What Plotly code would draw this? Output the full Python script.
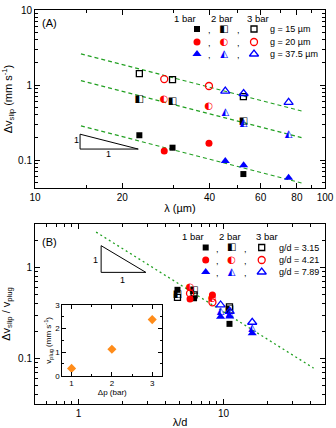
import numpy as np
import plotly.graph_objects as go

W, H = 336, 428

# ---------------- panel A data ----------------
LAMBDA_SQ_A = [22.9, 29.8, 52.3]
LAMBDA_CI_A = [27.9, 39.8]
LAMBDA_TR_A = [45.3, 52.4, 74.9]
SQ_1BAR_A = [0.214, 0.146, 0.065]
SQ_2BAR_A = [0.65, 0.61, 0.323]
SQ_3BAR_A = [1.42, 1.18, 0.70]
CI_1BAR_A = [0.132, 0.167]
CI_2BAR_A = [0.65, 0.52]
CI_3BAR_A = [1.20, 0.97]
TR_1BAR_A = [0.097, 0.085, 0.058]
TR_2BAR_A = [0.43, 0.31, 0.218]
TR_3BAR_A = [0.83, 0.77, 0.586]
FIT_COEF_A = [37.4, 16.5, 4.1]      # dv = c / lambda
FIT_RANGE_A = [14.4, 83.0]

# ---------------- panel B data ----------------
LD_SQ_B = [4.81, 6.26, 10.99]
LD_CI_B = [5.87, 8.38]
LD_TR_B = [9.54, 11.03, 15.77]
SQ_1BAR_B = [0.57, 0.46, 0.24]
SQ_2BAR_B = [0.51, 0.56, 0.35]
SQ_3BAR_B = [0.47, 0.50, 0.37]
CI_1BAR_B = [0.45, 0.50]
CI_2BAR_B = [0.60, 0.46]
CI_3BAR_B = [0.52, 0.415]
TR_1BAR_B = [0.288, 0.29, 0.189]
TR_2BAR_B = [0.33, 0.31, 0.215]
TR_3BAR_B = [0.388, 0.33, 0.25]
FIT_COEF_B = 3.26
FIT_RANGE_B = [1.32, 41.8]

# ---------------- inset data ----------------
DP_BAR = [1, 2, 3]
V_PLUG = [0.31, 1.12, 2.38]
V_PLUG_ERR = [0.07, 0.08, 0.12]

LEGEND_A = ["g = 15 \u00b5m", "g = 20 \u00b5m", "g = 37.5 \u00b5m"]
LEGEND_B = ["g/d = 3.15", "g/d = 4.21", "g/d = 7.89"]
PRESSURES = ["1 bar", "2 bar", "3 bar"]

FONT = "Liberation Sans, Arial, sans-serif"
RED, BLUE, BLACK = "#ff0000", "#0000ff", "#000000"
GREEN = "#22a022"
ORANGE = "#ff8c1a"


def px(x):
    return x / W


def py(y):
    return 1 - y / H


fig = go.Figure()


def filled(x, y, sym, col, xa, ya, size=7):
    fig.add_trace(go.Scatter(x=x, y=y, mode="markers", xaxis=xa, yaxis=ya,
                             marker=dict(symbol=sym, color=col, size=size, line=dict(width=0)),
                             showlegend=False, hoverinfo="skip"))


def hollow(x, y, sym, col, xa, ya, size=7):
    fig.add_trace(go.Scatter(x=x, y=y, mode="markers", xaxis=xa, yaxis=ya,
                             marker=dict(symbol=sym + "-open", color=col, size=size,
                                         line=dict(width=1.3, color=col)),
                             showlegend=False, hoverinfo="skip"))


def half(x, y, glyph, col, xa, ya, size=10):
    fig.add_trace(go.Scatter(x=x, y=y, mode="text", xaxis=xa, yaxis=ya, text=[glyph] * len(x),
                             textposition="middle center",
                             textfont=dict(family="DejaVu Sans", size=size, color=col),
                             showlegend=False, hoverinfo="skip"))


SQ_HALF, CI_HALF, TR_HALF = "\u25e7", "\u25d0", "\u25ed"

# fit lines (under markers)
xf = np.array(FIT_RANGE_A)
for c in FIT_COEF_A:
    fig.add_trace(go.Scatter(x=xf, y=c / xf, mode="lines", xaxis="x", yaxis="y",
                             line=dict(color=GREEN, width=1.2, dash="4px,3px"),
                             showlegend=False, hoverinfo="skip"))
xb = np.array(FIT_RANGE_B)
fig.add_trace(go.Scatter(x=xb, y=FIT_COEF_B / xb, mode="lines", xaxis="x2", yaxis="y2",
                         line=dict(color=GREEN, width=1.3, dash="2px,3px"),
                         showlegend=False, hoverinfo="skip"))

# panel A markers
filled(LAMBDA_SQ_A, SQ_1BAR_A, "square", BLACK, "x", "y", 6)
half(LAMBDA_SQ_A, SQ_2BAR_A, SQ_HALF, BLACK, "x", "y")
hollow(LAMBDA_SQ_A, SQ_3BAR_A, "square", BLACK, "x", "y", 6)
filled(LAMBDA_CI_A, CI_1BAR_A, "circle", RED, "x", "y")
half(LAMBDA_CI_A, CI_2BAR_A, CI_HALF, RED, "x", "y")
hollow(LAMBDA_CI_A, CI_3BAR_A, "circle", RED, "x", "y")
filled(LAMBDA_TR_A, TR_1BAR_A, "triangle-up", BLUE, "x", "y", 8)
half(LAMBDA_TR_A, TR_2BAR_A, TR_HALF, BLUE, "x", "y")
hollow(LAMBDA_TR_A, TR_3BAR_A, "triangle-up", BLUE, "x", "y", 8)

# panel B markers
filled(LD_SQ_B, SQ_1BAR_B, "square", BLACK, "x2", "y2", 6)
half(LD_SQ_B, SQ_2BAR_B, SQ_HALF, BLACK, "x2", "y2")
hollow(LD_SQ_B, SQ_3BAR_B, "square", BLACK, "x2", "y2", 6)
filled(LD_CI_B, CI_1BAR_B, "circle", RED, "x2", "y2")
half(LD_CI_B, CI_2BAR_B, CI_HALF, RED, "x2", "y2")
hollow(LD_CI_B, CI_3BAR_B, "circle", RED, "x2", "y2")
filled(LD_TR_B, TR_1BAR_B, "triangle-up", BLUE, "x2", "y2", 8)
half(LD_TR_B, TR_2BAR_B, TR_HALF, BLUE, "x2", "y2")
hollow(LD_TR_B, TR_3BAR_B, "triangle-up", BLUE, "x2", "y2", 8)

# slope triangles
fig.add_trace(go.Scatter(x=[14.3, 14.3, 22.7, 14.3], y=[0.221, 0.140, 0.140, 0.221], mode="lines",
                         xaxis="x", yaxis="y", line=dict(color=BLACK, width=1),
                         showlegend=False, hoverinfo="skip"))
fig.add_trace(go.Scatter(x=[1.43, 1.43, 2.91, 1.43], y=[1.75, 0.888, 0.888, 1.75], mode="lines",
                         xaxis="x2", yaxis="y2", line=dict(color=BLACK, width=1),
                         showlegend=False, hoverinfo="skip"))

# inset
fig.add_trace(go.Scatter(x=DP_BAR, y=V_PLUG, mode="markers", xaxis="x3", yaxis="y3",
                         marker=dict(symbol="diamond", color=ORANGE, size=7),
                         error_y=dict(type="data", array=V_PLUG_ERR, color=ORANGE, thickness=1, width=0),
                         showlegend=False, hoverinfo="skip"))

# legend keys drawn on an overlay axis in pixel units
rows_a = [29, 42, 54]
rows_b = [247.5, 260, 272]
cols_a = [197, 224, 254]
cols_b = [205.7, 231.7, 261.7]
for rows, cols in ((rows_a, cols_a), (rows_b, cols_b)):
    for r, sym, col, hg, sz in zip(rows, ["square", "circle", "triangle-up"], [BLACK, RED, BLUE],
                                   [SQ_HALF, CI_HALF, TR_HALF], [6, 7, 8]):
        filled([cols[0]], [r], sym, col, "x4", "y4", sz)
        half([cols[1]], [r], hg, col, "x4", "y4")
        hollow([cols[2]], [r], sym, col, "x4", "y4", sz)

annotations = []


def note(x, y, text, size=10, xanchor="center", yanchor="middle"):
    annotations.append(dict(x=px(x), y=py(y), xref="paper", yref="paper", text=text, showarrow=False,
                            xanchor=xanchor, yanchor=yanchor, font=dict(family=FONT, size=size, color=BLACK)))


note(40, 23, "(A)", 11, "left")
note(40, 242, "(B)", 11, "left")
for xs, p in zip([185, 222, 258], PRESSURES):
    note(xs, 19, p, 9.5)
for xs, p in zip([193, 229.5, 266.5], PRESSURES):
    note(xs, 236.5, p, 9.5)
for rows, commas, labels, lx in ((rows_a, [209, 238], LEGEND_A, 268), (rows_b, [217, 245], LEGEND_B, 277)):
    for r, lab in zip(rows, labels):
        for cx in commas:
            note(cx, r + 1, ",", 9)
        note(lx, r, lab, 9, "left")
note(76, 140, "1", 9)
note(108, 154, "1", 9)
note(95, 260, "1", 9)
note(123, 280, "1", 9)


def minor_vals(decades):
    vals = []
    for d in decades:
        vals += [k * 10.0 ** d for k in range(2, 10)]
    return vals


axis_common = dict(showline=True, linecolor=BLACK, linewidth=1, mirror="ticks", ticks="inside",
                   ticklen=5, tickwidth=1, tickcolor=BLACK, showgrid=False, zeroline=False,
                   automargin=False, tickfont=dict(family=FONT, size=10, color=BLACK))
minor_common = dict(ticks="inside", ticklen=3, tickwidth=1, tickcolor=BLACK, showgrid=False)

fig.update_layout(
    width=W, height=H, margin=dict(l=0, r=0, t=0, b=0, autoexpand=False),
    paper_bgcolor="white", plot_bgcolor="rgba(0,0,0,0)",
    font=dict(family=FONT, color=BLACK),
    annotations=annotations,
    xaxis=dict(axis_common, type="log", domain=[px(35), px(325)], anchor="y", range=[1, 2],
               tickvals=[10, 20, 40, 60, 80, 100], ticktext=["10", "20", "40", "60", "80", "100"],
               minor=dict(minor_common, tickvals=[15, 30, 50, 70, 90]),
               title=dict(text="\u03bb (\u00b5m)", font=dict(family=FONT, size=11), standoff=2)),
    yaxis=dict(axis_common, type="log", domain=[py(188), py(10)], anchor="x", range=[-1.373, 1],
               tickvals=[0.1, 1, 10], ticktext=["0.1", "1", "10"],
               minor=dict(minor_common, tickvals=minor_vals([-2, -1, 0])),
               title=dict(text="\u0394v<sub>slip</sub> (mm s<sup>-1</sup>)", font=dict(family=FONT, size=11), standoff=6)),
    xaxis2=dict(axis_common, type="log", domain=[px(35), px(325)], anchor="y2", range=[-0.301, 1.70],
                tickvals=[1, 10], ticktext=["1", "10"],
                minor=dict(minor_common, tickvals=minor_vals([-1, 0, 1])),
                title=dict(text="\u03bb/d", font=dict(family=FONT, size=11), standoff=2)),
    yaxis2=dict(axis_common, type="log", domain=[py(404), py(224)], anchor="x2", range=[-1.504, 0.482],
                tickvals=[0.1, 1], ticktext=["0.1", "1"],
                minor=dict(minor_common, tickvals=minor_vals([-2, -1, 0])),
                title=dict(text="\u0394v<sub>slip</sub> / v<sub>plug</sub>", font=dict(family=FONT, size=11), standoff=6)),
    xaxis3=dict(axis_common, domain=[px(62.3), px(162.3)], anchor="y3", range=[0.77, 3.25],
                tickvals=[1, 2, 3], ticklen=4, tickfont=dict(family=FONT, size=8, color=BLACK),
                minor=dict(minor_common, ticklen=2, tickvals=[1.5, 2.5]),
                title=dict(text="\u0394p (bar)", font=dict(family=FONT, size=8), standoff=1)),
    yaxis3=dict(axis_common, domain=[py(375.7), py(305)], anchor="x3", range=[0, 3],
                tickvals=[0, 1, 2, 3], ticklen=4, tickfont=dict(family=FONT, size=8, color=BLACK),
                minor=dict(minor_common, ticklen=2, tickvals=[0.5, 1.5, 2.5]),
                title=dict(text="v<sub>plug</sub> (mm s<sup>-1</sup>)", font=dict(family=FONT, size=8), standoff=2)),
    xaxis4=dict(domain=[0, 1], anchor="y4", range=[0, W], visible=False, fixedrange=True),
    yaxis4=dict(domain=[0, 1], anchor="x4", range=[H, 0], visible=False, fixedrange=True),
)

# the page body has a default margin; drop it so the figure fills the window
fig.write_html("out.html", post_script="document.body.style.margin='0';",
               config={"displayModeBar": False})
